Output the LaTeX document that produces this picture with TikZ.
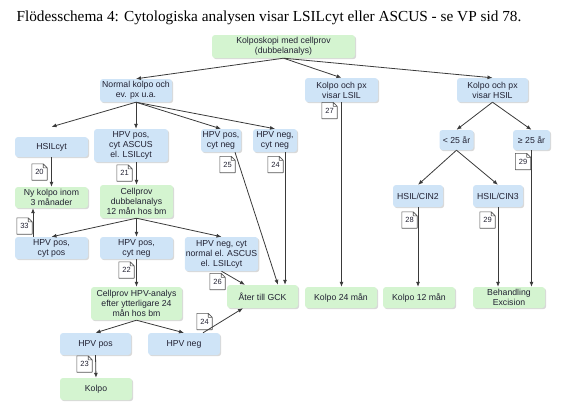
\documentclass[tikz,border=0pt]{standalone}
\usepackage{fontspec}
\setmainfont{Liberation Serif}
\setsansfont{Liberation Sans}
\usetikzlibrary{arrows.meta,shadows}
\definecolor{boxgreen}{HTML}{D4F4D0}
\definecolor{boxblue}{HTML}{CFE4F7}
\definecolor{ink}{HTML}{222233}
\definecolor{wire}{HTML}{3A3A3A}
\definecolor{notegray}{HTML}{555555}
\tikzset{
  node_green/.style={fill=boxgreen,rounded corners=3pt,inner sep=1pt,align=center,
    font=\sffamily\fontsize{8.7}{10}\selectfont\color{ink},
    drop shadow={shadow xshift=1.2pt,shadow yshift=-1.2pt,opacity=0.3}},
  node_blue/.style={node_green,fill=boxblue},
  note_box/.style={inner sep=0pt,minimum width=15pt,minimum height=16pt,
    font=\sffamily\fontsize{7.5}{8}\selectfont\color{ink},
    append after command={\pgfextra{\draw[notegray,line width=0.6pt,line join=round]
      (\tikzlastnode.south west) -- (\tikzlastnode.south east)
      -- ([yshift=-4pt]\tikzlastnode.north east) -- ([xshift=-4pt]\tikzlastnode.north east)
      -- (\tikzlastnode.north west) -- cycle
      ([xshift=-4pt]\tikzlastnode.north east) |- ([yshift=-4pt]\tikzlastnode.north east);}}},
  arr/.style={-{Latex[length=5pt,width=4pt]},draw=wire,line width=0.8pt},
}

\begin{document}
\begin{tikzpicture}[x=1pt,y=-1pt]
  \useasboundingbox (0,0) rectangle (580,408);
  \node[anchor=base west,font=\fontsize{15.3}{17}\selectfont] (title) at (13,21)
    {Flödesschema 4: Cytologiska analysen visar LSILcyt eller ASCUS - se VP sid 78.};

  % top level
  \node[node_green,minimum width=143pt,minimum height=23pt] (kolp) at (283.5,46.5) {Kolposkopi med cellprov\\(dubbelanalys)};
  \node[node_blue,minimum width=72pt,minimum height=23pt] (normal) at (136,90.5) {Normal kolpo och\\ev. px u.a.};
  \node[node_blue,minimum width=73pt,minimum height=24pt] (lsil) at (341.5,90) {Kolpo och px\\visar LSIL};
  \node[node_blue,minimum width=71pt,minimum height=24pt] (hsil) at (492.5,90) {Kolpo och px\\visar HSIL};

  % left branch
  \node[node_blue,minimum width=73pt,minimum height=20pt] (hsilc) at (51.5,147) {HSILcyt};
  \node[node_blue,minimum width=74pt,minimum height=33pt] (ascus) at (131,145.5) {HPV pos,\\cyt ASCUS\\el. LSILcyt};
  \node[node_blue,minimum width=40pt,minimum height=23pt] (pcneg) at (221,140.5) {HPV pos,\\cyt neg};
  \node[node_blue,minimum width=44pt,minimum height=23pt] (nneg) at (275,140.5) {HPV neg,\\cyt neg};
  \node[node_green,minimum width=73pt,minimum height=21pt] (nykolpo) at (51.5,197.5) {Ny kolpo inom\\3 månader};
  \node[node_green,minimum width=73pt,minimum height=33pt] (dubbel) at (136.5,201.5) {Cellprov\\dubbelanalys\\12 mån hos bm};
  \node[node_blue,minimum width=73pt,minimum height=22pt] (pp) at (51.5,248) {HPV pos,\\cyt pos};
  \node[node_blue,minimum width=73pt,minimum height=22pt] (pn) at (136.5,248) {HPV pos,\\cyt neg};
  \node[node_blue,minimum width=73pt,minimum height=34pt] (nnorm) at (221.5,254) {HPV neg, cyt\\normal el. ASCUS\\el. LSILcyt};
  \node[node_green,minimum width=71pt,minimum height=23pt] (ater) at (262.5,296.5) {Åter till GCK};
  \node[node_green,minimum width=91pt,minimum height=33pt] (hpvan) at (136.5,303.5) {Cellprov HPV-analys\\efter ytterligare 24\\mån hos bm};
  \node[node_blue,minimum width=71pt,minimum height=22pt] (hpos) at (95.5,344) {HPV pos};
  \node[node_blue,minimum width=72pt,minimum height=22pt] (hneg) at (184,344) {HPV neg};
  \node[node_green,minimum width=72pt,minimum height=22pt] (kolpo) at (96,389) {Kolpo};

  % right branch
  \node[node_blue,minimum width=34pt,minimum height=20pt] (lt25) at (456.5,140) {< 25 år};
  \node[node_blue,minimum width=37pt,minimum height=20pt] (ge25) at (531.5,140) {≥ 25 år};
  \node[node_blue,minimum width=50pt,minimum height=22pt] (cin2) at (418,196) {HSIL/CIN2};
  \node[node_blue,minimum width=50pt,minimum height=22pt] (cin3) at (498,196) {HSIL/CIN3};
  \node[node_green,minimum width=72pt,minimum height=21pt] (k24) at (341,297.5) {Kolpo 24 mån};
  \node[node_green,minimum width=72pt,minimum height=21pt] (k12) at (419,297.5) {Kolpo 12 mån};
  \node[node_green,minimum width=72pt,minimum height=21pt] (beh) at (509,297.5) {Behandling\\Excision};

  % page references
  \node[note_box] (n20) at (39.5,172) {20};
  \node[note_box] (n21) at (124.5,173) {21};
  \node[note_box] (n25) at (227.5,164.5) {25};
  \node[note_box] (n24a) at (275.5,164.5) {24};
  \node[note_box] (n33) at (24.5,226) {33};
  \node[note_box] (n22) at (126.5,270) {22};
  \node[note_box] (n26) at (217.5,281.5) {26};
  \node[note_box] (n24b) at (204.5,321.5) {24};
  \node[note_box] (n23) at (84.5,364) {23};
  \node[note_box] (n27) at (329.5,110.5) {27};
  \node[note_box] (n29a) at (523,161.5) {29};
  \node[note_box] (n28) at (409.5,220) {28};
  \node[note_box] (n29b) at (487.5,220) {29};

  \draw[arr] (kolp.south) -- (normal.north); \draw[arr] (kolp.south) -- (lsil.north); \draw[arr] (kolp.south) -- (hsil.north);
  \draw[arr] (normal.south) -- ([yshift=10pt]hsilc.north); \draw[arr] (normal.south) -- (normal.south |- ascus.north);
  \draw[arr] (normal.south) -- (pcneg.north); \draw[arr] (normal.south) -- (nneg.north);
  \draw[arr] (hsilc.south) -- (nykolpo.north); \draw[arr] (dubbel.north |- ascus.south) -- (dubbel.north);
  \draw[arr] (dubbel.south) -- (pp.north); \draw[arr] (dubbel.south) -- (pn.north); \draw[arr] (dubbel.south) -- (nnorm.north);
  \draw[arr] ([xshift=-18.5pt]pp.north) -- ([xshift=-18.5pt]pp.north |- nykolpo.south);
  \draw[arr] (pn.south) -- (hpvan.north);
  \draw[arr] (hpvan.south) -- (hpos.north); \draw[arr] (hpvan.south) -- (hneg.north);
  \draw[arr] (hpos.south) -- (kolpo.north);
  \draw[arr] ([xshift=19pt]hneg.north) -- ([xshift=-19.5pt]ater.south);
  \draw[arr] (nnorm.south) -- ([xshift=-17.5pt]ater.north);
  \draw[arr] ([xshift=14pt]pcneg.south) -- ([xshift=15.5pt]ater.north);
  \draw[arr] ([xshift=10pt]nneg.south) -- ([xshift=10pt]nneg.south |- ater.north);
  \draw[arr] (lsil.south) -- (lsil.south |- k24.north);
  \draw[arr] (hsil.south) -- (lt25.north); \draw[arr] (hsil.south) -- (ge25.north);
  \draw[arr] (lt25.south) -- (cin2.north); \draw[arr] (lt25.south) -- (cin3.north);
  \draw[arr] (cin2.south) -- (cin2.south |- k12.north);
  \draw[arr] (cin3.south) -- (cin3.south |- beh.north);
  \draw[arr] (ge25.south) -- (ge25.south |- beh.north);
\end{tikzpicture}
\end{document}
